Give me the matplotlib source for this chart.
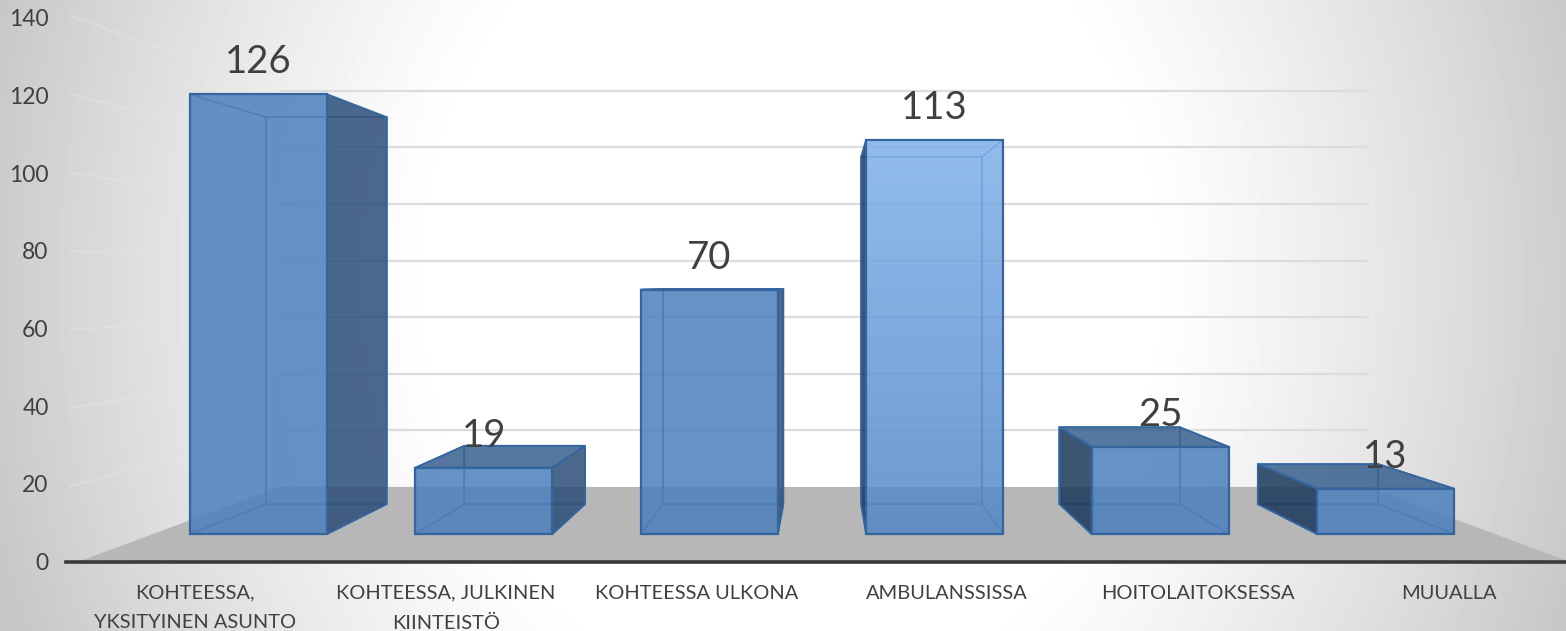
#!/usr/bin/env python

# Imports
import numpy as np
import matplotlib
matplotlib.use("Agg")
import matplotlib.pyplot as plt
from matplotlib.patches import Polygon

# Data
categories = ["KOHTEESSA,\nYKSITYINEN ASUNTO", "KOHTEESSA, JULKINEN\nKIINTEISTÖ",
              "KOHTEESSA ULKONA", "AMBULANSSISSA", "HOITOLAITOKSESSA", "MUUALLA"]
values = [126, 19, 70, 113, 25, 13]
y_ticks = [0, 20, 40, 60, 80, 100, 120, 140]

W, H = 1566, 631
# bar plane: one category = 225.4 px, one unit = 3.49 px
px_x = 225.4
px_y = 3.49
x0_px = 258.5
y0_px = 534.0
xlim = (-x0_px / px_x, (W - x0_px) / px_x)
ylim = ((y0_px - H) / px_y, y0_px / px_y)

# perspective: vanishing point and depth factors
vx = (824 - x0_px) / px_x
vy = (y0_px - 285) / px_y
s_back = 0.88      # back of the bars
s_wall = 0.811     # back wall
s_floor = 1.112    # front edge of floor
s_side = 1.124     # start of the side grid lines
bar_w = 0.608
wall_left = (153 - x0_px) / px_x
wall_right = (1495 - x0_px) / px_x


def proj(x, y, s):
  return vx + s * (x - vx), vy + s * (y - vy)


fig = plt.figure(figsize=(W / 100, H / 100), dpi=100)
ax = fig.add_axes([0, 0, 1, 1])
plt.rcParams['font.family'] = ['Lato', 'DejaVu Sans']

# Background gradient
xx, yy = np.meshgrid(np.linspace(0, W, 400), np.linspace(0, H, 200))
r = np.sqrt(((xx - 790) / 790) ** 2 + ((yy - 280) / 900) ** 2)
bg = 1 - 0.22 * np.clip((r - 0.45) / 0.6, 0, 1) ** 1.2
ax.imshow(bg, cmap='gray', vmin=0, vmax=1, extent=(xlim[0], xlim[1], ylim[0], ylim[1]),
          aspect='auto', zorder=0)

# Floor
floor = [proj(wall_left, 0, s_floor), proj(wall_right, 0, s_floor),
         proj(wall_right, 0, s_wall), proj(wall_left, 0, s_wall)]
ax.add_patch(Polygon(floor, closed=True, fc='#b7b7b7', ec='none', zorder=1))

# Grid lines on back wall and left side
for v in y_ticks[1:]:
  a = proj(wall_left, v, s_wall)
  b = proj(wall_right, v, s_wall)
  ax.plot([a[0], b[0]], [a[1], b[1]], color='#dcdcdc', lw=1.6, zorder=1)
  c = proj(wall_left, v, s_side)
  ax.plot([c[0], a[0]], [c[1], a[1]], color='#e8e8e8', lw=1.3, alpha=0.4, zorder=1)

# Axis line
a = proj(wall_left, 0, s_floor)
b = proj(wall_right, 0, s_floor)
ax.plot([a[0] - 12 / px_x, b[0]], [a[1], b[1]], color='#3a3a3a', lw=2.6, zorder=2)

# Tick labels
for v in y_ticks:
  p = proj(wall_left, v, s_floor)
  ax.annotate(str(v), xy=p, xytext=(-21, -1), textcoords='offset points', ha='right',
              va='center', fontsize=16.5, color='#404040')

for i, name in enumerate(categories):
  p = proj(i, 0, s_floor)
  ax.annotate(name, xy=p, xytext=(0, -16.5), textcoords='offset points', ha='center',
              va='top', fontsize=14.4, color='#404040', linespacing=1.9,
              annotation_clip=False)

# Bars, drawn back to front
front_c = '#4b7fbc'
side_c = '#2b4e78'
left_c = '#19375a'
top_c = '#37608f'
edge_c = '#4a7fc0'
front_edge = '#34659e'

for i, v in enumerate(values):
  l, t = i - bar_w / 2, v
  rt = i + bar_w / 2
  fl, fr = (l, 0), (rt, 0)
  ftl, ftr = (l, t), (rt, t)
  bl, br = proj(l, 0, s_back), proj(rt, 0, s_back)
  btl, btr = proj(l, t, s_back), proj(rt, t, s_back)
  z = 3 + i * 0.1

  ax.add_patch(Polygon([bl, br, btr, btl], fc='none', ec=edge_c, lw=1.1, zorder=z))
  ax.add_patch(Polygon([fl, fr, br, bl], fc='none', ec=edge_c, lw=1.1, zorder=z))

  # only faces seen from outside get a dark fill
  if br[0] > rt:
    ax.add_patch(Polygon([fr, br, btr, ftr], fc=side_c, alpha=0.85, ec='none', zorder=z))
    ax.add_patch(Polygon([fr, br, btr, ftr], fc='none', ec=front_edge, lw=1.3, zorder=z))
  else:
    ax.add_patch(Polygon([fr, br, btr, ftr], fc='none', ec=edge_c, lw=1.1, zorder=z))
  if bl[0] < l:
    ax.add_patch(Polygon([fl, bl, btl, ftl], fc=left_c, alpha=0.85, ec='none', zorder=z))
    ax.add_patch(Polygon([fl, bl, btl, ftl], fc='none', ec=front_edge, lw=1.3, zorder=z))
  else:
    ax.add_patch(Polygon([fl, bl, btl, ftl], fc='none', ec=edge_c, lw=1.1, zorder=z))
  if btl[1] > t:
    ax.add_patch(Polygon([ftl, ftr, btr, btl], fc=top_c, alpha=0.85, ec='none', zorder=z))
    ax.add_patch(Polygon([ftl, ftr, btr, btl], fc='none', ec=front_edge, lw=1.3, zorder=z))

  # front face, the ambulance bar is lighter with a gradient
  face = Polygon([fl, fr, ftr, ftl], fc='none', ec='none', zorder=z + 0.01)
  ax.add_patch(face)
  if i == 3:
    grad = np.linspace(0, 1, 100).reshape(-1, 1)
    cmap = matplotlib.colors.LinearSegmentedColormap.from_list('b', ['#7fb0ea', '#5386c6'])
    im = ax.imshow(grad, cmap=cmap, alpha=0.85, extent=(l, rt, 0, t), aspect='auto',
                   zorder=z + 0.01)
    im.set_clip_path(face)
  else:
    ax.add_patch(Polygon([fl, fr, ftr, ftl], fc=front_c, alpha=0.85, ec='none', zorder=z + 0.01))
  ax.add_patch(Polygon([fl, fr, ftr, ftl], fc='none', ec=front_edge, lw=1.6, zorder=z + 0.02))

  # value label sits a constant distance over the value
  ax.text(i, v + 9.2, str(v), ha='center', va='center', fontsize=27.5, color='#404040', zorder=10)

ax.set_xlim(xlim)
ax.set_ylim(ylim)
ax.axis('off')
fig.savefig("out.png", dpi=100)
